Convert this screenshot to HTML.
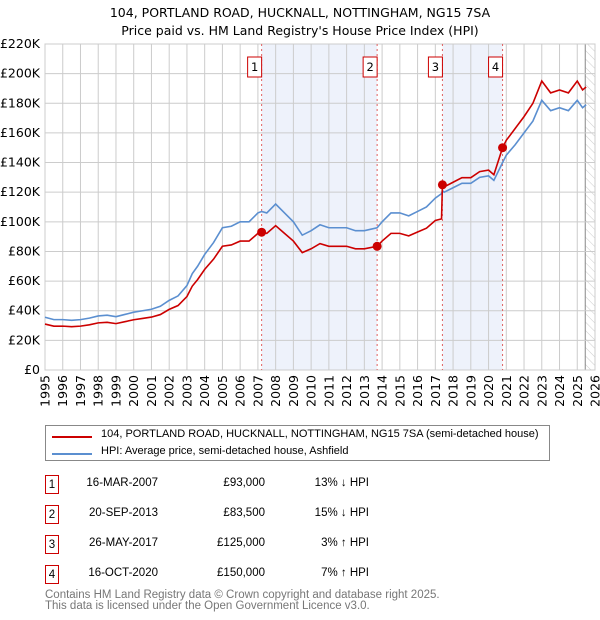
<!DOCTYPE html>
<html><head><meta charset="utf-8">
<style>
body{margin:0;background:#fff;font-family:"Liberation Sans","DejaVu Sans",sans-serif;}
#wrap{position:relative;width:600px;height:620px;overflow:hidden;}
svg text{font-family:"DejaVu Sans","Liberation Sans",sans-serif;}
</style></head><body>
<div id="wrap">
<svg id="chart" width="600" height="620">
<defs>
<pattern id="hatch" width="6" height="6" patternUnits="userSpaceOnUse" patternTransform="rotate(-45)">
<line x1="0" y1="0" x2="0" y2="6" stroke="#ccc" stroke-width="1"/></pattern>
</defs>
<text x="300" y="17" text-anchor="middle" font-size="12.5" fill="#000">104, PORTLAND ROAD, HUCKNALL, NOTTINGHAM, NG15 7SA</text>
<text x="300" y="35" text-anchor="middle" font-size="12.5" fill="#000">Price paid vs. HM Land Registry's House Price Index (HPI)</text>
<g id="plot"></g>
</svg>
</div>
<script>
const dates=[1995,1995.5,1996,1996.5,1997,1997.5,1998,1998.5,1999,1999.5,2000,2000.5,2001,2001.5,2002,2002.5,2003,2003.3,2003.6,2004,2004.5,2005,2005.5,2006,2006.5,2007,2007.21,2007.5,2008,2008.5,2009,2009.5,2010,2010.5,2011,2011.5,2012,2012.5,2013,2013.72,2014,2014.5,2015,2015.5,2016,2016.5,2017,2017.35,2017.4,2017.5,2018,2018.5,2019,2019.5,2020,2020.3,2020.79,2021,2021.5,2022,2022.5,2023,2023.5,2024,2024.5,2025,2025.3,2025.5];
const hpi=[35.6,34,34,33.5,34,35,36.5,37,36,37.5,39,40,41,43,47,50,57,65,70,78,86,96,97,100,100,106,107,106,112,106,100,91,94,98,96,96,96,94,94,96,100,106,106,104,107,110,116,119,121,120,123,126,126,130,131,128,140,145,152,160,168,182,175,177,175,182,177,179];
const price=[31,29.6,29.6,29.2,29.6,30.5,31.8,32.2,31.3,32.6,33.9,34.8,35.7,37.4,40.9,43.5,49.6,56.6,61,67.9,74.8,83.5,84.4,87,87,92.2,93,92.2,97.4,92.2,87,79.2,81.8,85.3,83.5,83.5,83.5,81.8,81.8,83.5,87,92.2,92.2,90.5,93.1,95.7,100.9,102,125,123.6,126.7,129.8,129.8,133.9,134.9,131.8,150,155,163,171,180,195,187,189,187,195,189,191];
const saleDates=[2007.21,2013.72,2017.4,2020.79];
const salePrices=[93,83.5,125,150];
const saleLabels=["1","2","3","4"];
const yTicks=[0,20,40,60,80,100,120,140,160,180,200,220];
const xYears=[1995,1996,1997,1998,1999,2000,2001,2002,2003,2004,2005,2006,2007,2008,2009,2010,2011,2012,2013,2014,2015,2016,2017,2018,2019,2020,2021,2022,2023,2024,2025,2026];

const L=45,R=595,T=44,B=370;
const X=v=>L+(v-1995)/(2026-1995)*(R-L);
const Y=v=>B-v/220*(B-T);
const NS="http://www.w3.org/2000/svg";
const g=document.getElementById('plot');
function mk(tag,attrs,parent){const e=document.createElementNS(NS,tag);for(const k in attrs)e.setAttribute(k,attrs[k]);(parent||g).appendChild(e);return e;}

for(let i=0;i<saleDates.length;i+=2){
  const r=mk('rect',{x:X(saleDates[i]),y:T,width:X(saleDates[i+1])-X(saleDates[i]),height:B-T,fill:'#eef2fb'});
  
  
}
const hr=mk('rect',{x:X(2025.45),y:T,width:R-X(2025.45),height:B-T,fill:'url(#hatch)'});


mk('line',{x1:X(2025.45),x2:X(2025.45),y1:T,y2:B,stroke:'#888','stroke-width':1});
yTicks.forEach(v=>{
  const l=mk('line',{x1:L,x2:R,y1:Y(v),y2:Y(v),stroke:'#ccc','stroke-width':1});
  
  
  const t=mk('text',{x:L-5,y:Y(v)+4,'text-anchor':'end','font-size':12.5,fill:'#000'});
  t.textContent=v===0?'£0':'£'+v+'K';
  
  
});
xYears.forEach(yr=>{
  const l=mk('line',{x1:X(yr),x2:X(yr),y1:T,y2:B,stroke:'#ccc','stroke-width':1});
  
  
  const t=mk('text',{x:0,y:0,'text-anchor':'end','font-size':12.5,fill:'#000',transform:`translate(${X(yr)+4.5},${B+5}) rotate(-90)`});
  t.textContent=yr;
  
  
});
mk('rect',{x:L,y:T,width:R-L,height:B-T,fill:'none',stroke:'#ccc'});
saleDates.forEach((d,i)=>{
  const l=mk('line',{x1:X(d),x2:X(d),y1:T,y2:B,stroke:'#e06060','stroke-width':1,'stroke-dasharray':'2,3'});
  
  
  const bx=mk('rect',{x:X(d)-14,y:57,width:14,height:20,fill:'#fff',stroke:'#c00','stroke-width':1});
  
  
  const t=mk('text',{x:X(d)-7,y:71,'text-anchor':'middle','font-size':11.5,fill:'#000'});
  t.textContent=saleLabels[i];
  
  
});
const hp=mk('polyline',{points:dates.map((d,i)=>X(d)+','+Y(hpi[i])).join(' '),fill:'none',stroke:'#5b8fd0','stroke-width':1.6});


const pp=mk('polyline',{points:dates.map((d,i)=>X(d)+','+Y(price[i])).join(' '),fill:'none',stroke:'#cc0000','stroke-width':1.6});


saleDates.forEach((d,i)=>{
  const c=mk('circle',{cx:X(d),cy:Y(salePrices[i]),r:4.5,fill:'#cc0000'});
  
  
});
</script>
<div style="position:absolute;left:45px;top:425px;width:505px;height:36px;border:1px solid #888;box-sizing:border-box;font-size:11px;">
 <div style="position:absolute;left:6px;top:10px;width:40px;height:2px;background:#cc0000"></div>
 <div style="position:absolute;left:55px;top:2px;white-space:nowrap">104, PORTLAND ROAD, HUCKNALL, NOTTINGHAM, NG15 7SA (semi-detached house)</div>
 <div style="position:absolute;left:6px;top:27px;width:40px;height:2px;background:#5b8fd0"></div>
 <div style="position:absolute;left:55px;top:19px;white-space:nowrap">HPI: Average price, semi-detached house, Ashfield</div>
</div>
<div style="font-size:11.5px;">
 <div style="position:absolute;top:475px;left:0;width:600px;height:20px">
  <div style="position:absolute;left:45px;top:0;width:14px;height:19px;border:1px solid #c00;box-sizing:border-box;text-align:center;line-height:18px">1</div>
  <div style="position:absolute;right:442px;top:2px">16-MAR-2007</div>
  <div style="position:absolute;right:335px;top:2px">£93,000</div>
  <div style="position:absolute;right:231px;top:2px">13% ↓ HPI</div></div>
 <div style="position:absolute;top:505px;left:0;width:600px;height:20px">
  <div style="position:absolute;left:45px;top:0;width:14px;height:19px;border:1px solid #c00;box-sizing:border-box;text-align:center;line-height:18px">2</div>
  <div style="position:absolute;right:442px;top:2px">20-SEP-2013</div>
  <div style="position:absolute;right:335px;top:2px">£83,500</div>
  <div style="position:absolute;right:231px;top:2px">15% ↓ HPI</div></div>
 <div style="position:absolute;top:535px;left:0;width:600px;height:20px">
  <div style="position:absolute;left:45px;top:0;width:14px;height:19px;border:1px solid #c00;box-sizing:border-box;text-align:center;line-height:18px">3</div>
  <div style="position:absolute;right:442px;top:2px">26-MAY-2017</div>
  <div style="position:absolute;right:335px;top:2px">£125,000</div>
  <div style="position:absolute;right:231px;top:2px">3% ↑ HPI</div></div>
 <div style="position:absolute;top:565px;left:0;width:600px;height:20px">
  <div style="position:absolute;left:45px;top:0;width:14px;height:19px;border:1px solid #c00;box-sizing:border-box;text-align:center;line-height:18px">4</div>
  <div style="position:absolute;right:442px;top:2px">16-OCT-2020</div>
  <div style="position:absolute;right:335px;top:2px">£150,000</div>
  <div style="position:absolute;right:231px;top:2px">7% ↑ HPI</div></div>
</div>
<div style="position:absolute;left:45px;top:590px;font-size:11.5px;color:#777;line-height:11px">Contains HM Land Registry data © Crown copyright and database right 2025.<br>This data is licensed under the Open Government Licence v3.0.</div>
</body></html>
